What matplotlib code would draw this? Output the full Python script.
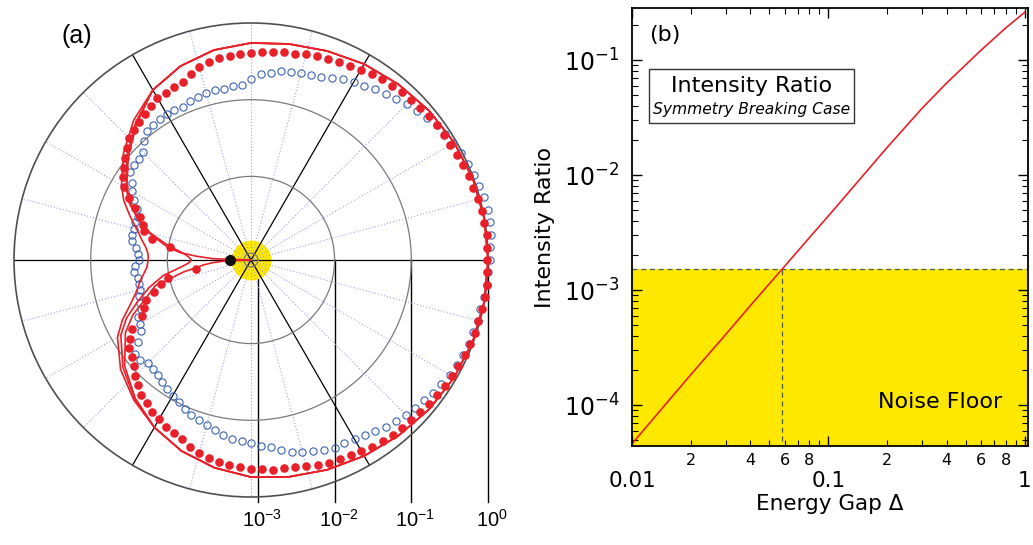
import numpy as np
import matplotlib.pyplot as plt
from matplotlib.ticker import FixedLocator, FuncFormatter, NullFormatter
from matplotlib.patches import Rectangle
from matplotlib.transforms import ScaledTranslation

# ---------------- panel (a): polar pattern, radius in log10 units ----------------
r_min_exp = -3.09          # log10 radius at the centre of the polar plot

dot_angles = np.arange(0, 360, 3)
dots_log = [-0.01, -0.01, -0.00, -0.02, -0.01, -0.02, -0.04, -0.05, -0.06, -0.07,
            -0.09, -0.09, -0.10, -0.11, -0.13, -0.14, -0.15, -0.17, -0.18, -0.20,
            -0.23, -0.25, -0.26, -0.28, -0.30, -0.31, -0.34, -0.35, -0.36, -0.38,
            -0.39, -0.40, -0.41, -0.43, -0.45, -0.49, -0.54, -0.60, -0.62, -0.65,
            -0.65, -0.69, -0.73, -0.77, -0.81, -0.84, -0.91, -0.98, -1.04, -1.10,
            -1.18, -1.31, -1.43, -1.54, -1.61, -1.65, -1.77, -2.02, np.nan, np.nan,
            np.nan, np.nan, np.nan, -2.37, -1.98, -1.88, -1.76, -1.63, -1.56, -1.49,
            -1.30, -1.21, -1.13, -1.09, -1.03, -0.96, -0.89, -0.82, -0.78, -0.73,
            -0.69, -0.64, -0.62, -0.59, -0.53, -0.48, -0.45, -0.43, -0.40, -0.39,
            -0.36, -0.36, -0.34, -0.34, -0.33, -0.31, -0.28, -0.26, -0.25, -0.23,
            -0.22, -0.19, -0.17, -0.15, -0.14, -0.14, -0.13, -0.11, -0.10, -0.08,
            -0.07, -0.06, -0.04, -0.03, -0.02, -0.02, -0.01, -0.00, -0.00, -0.01]

circle_angles = np.arange(0, 360, 3)
circles_log = [0.03, 0.03, 0.05, 0.07, 0.07, 0.06, 0.04, 0.02, 0.00, -0.02,
               -0.05, -0.08, -0.10, -0.14, -0.18, -0.22, -0.26, -0.30, -0.34, -0.38,
               -0.41, -0.44, -0.49, -0.53, -0.55, -0.56, -0.58, -0.60, -0.64, -0.66,
               -0.73, -0.80, -0.81, -0.83, -0.83, -0.84, -0.86, -0.87, -0.90, -0.89,
               -0.89, -0.90, -0.92, -0.93, -1.00, -1.10, -1.13, -1.12, -1.14, -1.24,
               -1.30, -1.38, -1.46, -1.51, -1.50, -1.51, -1.51, -1.52, -1.58, -1.61,
               -1.63, -1.58, -1.55, -1.60, -1.60, -1.59, -1.56, -1.54, -1.52, -1.44,
               -1.42, -1.38, -1.27, -1.14, -1.14, -1.19, -1.18, -1.16, -1.12, -1.09,
               -1.05, -1.01, -0.97, -0.92, -0.89, -0.86, -0.82, -0.78, -0.74, -0.73,
               -0.70, -0.66, -0.64, -0.58, -0.53, -0.50, -0.47, -0.44, -0.41, -0.41,
               -0.39, -0.37, -0.33, -0.29, -0.26, -0.23, -0.21, -0.18, -0.15, -0.13,
               -0.10, -0.08, -0.06, -0.05, -0.04, -0.02, -0.04, -0.02, 0.01, 0.01]

line_angles = [0, 10, 20, 30, 40, 50, 60, 70, 80, 90, 100, 110, 120, 130, 140, 150,
               155, 160, 165, 170, 172, 174, 176, 178, 180, 182, 184, 186, 188, 190,
               195, 200, 205, 210, 220, 230, 240, 250, 260, 270, 280, 290, 300, 310,
               320, 330, 340, 350, 360]
line_outer_log = [0.00, 0.00, -0.01, -0.03, -0.06, -0.10, -0.14, -0.19, -0.23, -0.26,
                  -0.31, -0.40, -0.53, -0.71, -0.92, -1.14, -1.26, -1.41, -1.55, -1.65,
                  -1.69, -1.72, -1.74, -1.75, -1.75, -1.74, -1.73, -1.70, -1.67, -1.63,
                  -1.55, -1.42, -1.24, -1.08, -0.87, -0.71, -0.57, -0.44, -0.34, -0.26,
                  -0.22, -0.18, -0.14, -0.10, -0.06, -0.03, -0.01, 0.00, 0.00]
line_cusp_log = [0.00, 0.00, -0.01, -0.03, -0.06, -0.10, -0.14, -0.19, -0.23, -0.26,
                 -0.31, -0.40, -0.53, -0.75, -0.98, -1.21, -1.34, -1.52, -1.73, -1.99,
                 -2.10, -2.19, -2.25, -2.29, -2.31, -2.29, -2.24, -2.16, -2.06, -1.93,
                 -1.72, -1.52, -1.30, -1.13, -0.91, -0.73, -0.57, -0.44, -0.34, -0.26,
                 -0.22, -0.18, -0.14, -0.10, -0.06, -0.03, -0.01, 0.00, 0.00]
line_centre_log = [0.00, 0.00, -0.01, -0.03, -0.06, -0.10, -0.14, -0.19, -0.23, -0.26,
                   -0.31, -0.40, -0.53, -0.77, -1.00, -1.22, -1.37, -1.52, -1.71, -1.94,
                   -2.04, -2.16, -2.37, -2.59, -3.09, -2.76, -2.59, -2.46, -2.37, -2.20,
                   -1.80, -1.63, -1.39, -1.20, -0.94, -0.74, -0.57, -0.44, -0.34, -0.26,
                   -0.22, -0.18, -0.14, -0.10, -0.06, -0.03, -0.01, 0.00, 0.00]

black_dot_angle = 180
black_dot_log = -2.81
yellow_disk_log = -2.83
ring_values = [1e-3, 1e-2, 1e-1]
scale_values = [1e-3, 1e-2, 1e-1, 1e0]
scale_labels = [r'$\mathregular{10^{-3}}$', r'$\mathregular{10^{-2}}$',
                r'$\mathregular{10^{-1}}$', r'$\mathregular{10^{0}}$']

# ---------------- panel (b): intensity ratio vs energy gap ----------------
gap = [0.01, 0.02, 0.03, 0.04, 0.058, 0.08, 0.1, 0.2, 0.3, 0.4, 0.6, 0.8, 1.0]
ratio = [4.6e-5, 1.85e-4, 4.1e-4, 7.3e-4, 1.51e-3, 2.85e-3, 4.4e-3, 1.75e-2,
         3.8e-2, 6.3e-2, 1.22e-1, 1.9e-1, 2.6e-1]
noise_floor = 1.51e-3
gap_at_floor = 0.058

RED = '#e8202a'
BLUE = '#3a62b0'
YELLOW = '#ffe800'

fig = plt.figure(figsize=(10.33, 5.45), dpi=100)

# scale bar below the polar plot (drawn underneath)
axs = fig.add_axes([251/1033, 43/545, 237/1033, 242/545], zorder=0)
axs.set_xscale('log')
axs.set_xlim(10**r_min_exp, 1.0)
axs.set_ylim(0, 1)
for v in scale_values:
    axs.axvline(v, color='black', lw=1.0, clip_on=False)
axs.set_xticks(scale_values)
axs.set_xticklabels(scale_labels, fontsize=14.5, family='Liberation Sans')
axs.xaxis.set_minor_locator(FixedLocator([]))
axs.tick_params(axis='x', length=0, pad=5)
for lab in axs.get_xticklabels():
    lab.set_transform(lab.get_transform() + ScaledTranslation(0.04, 0, fig.dpi_scale_trans))
axs.set_yticks([])
for s in axs.spines.values():
    s.set_visible(False)
axs.patch.set_visible(False)

# polar plot
ax = fig.add_axes([14/1033, 48/545, 474/1033, 474/545], projection='polar', zorder=1)
ax.set_rscale('log')
ax.set_rlim(10**r_min_exp, 1.0)
ax.patch.set_visible(False)
ax.set_thetagrids(np.arange(0, 360, 15), labels=[])
ax.set_rgrids(ring_values, labels=[])
ax.tick_params(length=0)
for ang, gl in zip(np.arange(0, 360, 15), ax.xaxis.get_gridlines()):
    if ang % 60 == 0:
        gl.set_color('black')
        gl.set_linestyle('-')
        gl.set_linewidth(0.9)
    else:
        gl.set_color('#9a9ae0')
        gl.set_linestyle((0, (1, 2)))
        gl.set_linewidth(0.75)
for gl in ax.yaxis.get_gridlines():
    gl.set_color('#7a7a7a')
    gl.set_linestyle('-')
    gl.set_linewidth(0.9)
ax.spines['polar'].set_color('#505050')
ax.spines['polar'].set_linewidth(1.2)

theta_full = np.linspace(0, 2*np.pi, 181)
ax.fill_between(theta_full, 10**r_min_exp, 10**yellow_disk_log, color=YELLOW,
                lw=0, zorder=0.2)

ax.plot(np.radians(circle_angles), 10**np.array(circles_log), 'o', ms=5.2,
        mfc='none', mec=BLUE, mew=0.8, clip_on=False, zorder=3)
for vals in (line_outer_log, line_cusp_log, line_centre_log):
    ax.plot(np.radians(line_angles), 10**np.array(vals), '-', color=RED,
            lw=1.2, clip_on=False, zorder=4)
ax.plot(np.radians(dot_angles), 10**np.array(dots_log), 'o', ms=6.2,
        color=RED, mec='none', clip_on=False, zorder=5)
ax.plot(np.radians(black_dot_angle), 10**black_dot_log, 'o', ms=7,
        color='#111111', zorder=6)
ax.set_xticklabels([])
ax.set_yticklabels([])

fig.text(77/1033, 1 - 36.5/545, '(a)', ha='center', va='center', fontsize=18,
         family='Liberation Sans')

# ---------------- panel (b) ----------------
bx = fig.add_axes([632/1033, 99/545, 396/1033, 437.7/545])
bx.set_xscale('log')
bx.set_yscale('log')
bx.set_xlim(0.01, 1.04)
bx.set_ylim(4.4e-5, 0.282)

bx.axhspan(1e-6, noise_floor, color=YELLOW, lw=0, zorder=0)
bx.axhline(noise_floor, color='#4a5a4a', ls=(0, (4, 3)), lw=0.9, zorder=1)
bx.vlines(gap_at_floor, 1e-6, noise_floor, color='#4a5a4a', ls=(0, (4, 3)),
          lw=0.9, zorder=1)
bx.plot(gap, ratio, color=RED, lw=1.2, zorder=2)

bx.set_yticks([1e-4, 1e-3, 1e-2, 1e-1])
bx.set_yticklabels([r'$\mathregular{10^{-4}}$', r'$\mathregular{10^{-3}}$',
                    r'$\mathregular{10^{-2}}$', r'$\mathregular{10^{-1}}$'], fontsize=17)
minor_y = [m * 10.0**e for e in range(-5, 0) for m in range(2, 10)]
bx.yaxis.set_minor_locator(FixedLocator(minor_y))
bx.yaxis.set_minor_formatter(NullFormatter())

bx.set_xticks([0.01, 0.1, 1])
bx.set_xticklabels(['0.01', '0.1', '1'], fontsize=15.5)
minor_x = [m * 10.0**e for e in (-2, -1) for m in range(2, 10)]
bx.xaxis.set_minor_locator(FixedLocator(minor_x))
bx.xaxis.set_minor_formatter(FuncFormatter(
    lambda v, pos: '%d' % round(v / 10**np.floor(np.log10(v) + 1e-9))
    if round(v / 10**np.floor(np.log10(v) + 1e-9)) in (2, 4, 6, 8) else ''))

bx.tick_params(which='both', direction='in', top=True, right=True)
bx.tick_params(which='major', length=7, width=1.0)
bx.tick_params(which='minor', length=4, width=0.8)
bx.tick_params(axis='x', which='major', pad=18)
bx.tick_params(axis='x', which='minor', pad=5, labelsize=11.5)
bx.tick_params(axis='y', which='major', pad=9)
for s in bx.spines.values():
    s.set_linewidth(1.3)

bx.set_xlabel('Energy Gap Δ', fontsize=15.5, labelpad=2)
bx.set_ylabel('Intensity Ratio', fontsize=16, labelpad=6)

bx.add_patch(Rectangle((0.0437, 0.7387), 0.517, 0.1223, transform=bx.transAxes,
                       fill=False, ec='#333333', lw=1.0, zorder=3))
bx.text(0.302, 0.8225, 'Intensity Ratio', transform=bx.transAxes, ha='center',
        va='center', fontsize=16)
bx.text(0.302, 0.768, 'Symmetry Breaking Case', transform=bx.transAxes,
        ha='center', va='center', fontsize=11.2, style='italic')
bx.text(0.083, 0.94, '(b)', transform=bx.transAxes, ha='center', va='center',
        fontsize=16)
bx.text(0.935, 0.10, 'Noise Floor', transform=bx.transAxes, ha='right',
        va='center', fontsize=16)

fig.savefig('out.png', dpi=100)
